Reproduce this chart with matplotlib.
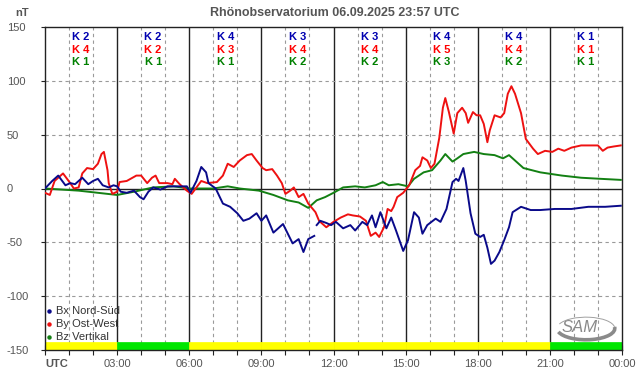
import numpy as np
import matplotlib
matplotlib.use("Agg")
import matplotlib.pyplot as plt
from matplotlib.patches import Arc, Rectangle

plt.rcParams['font.family'] = ['Liberation Sans', 'DejaVu Sans']

title = "Rhönobservatorium 06.09.2025 23:57 UTC"
x_labels = ["UTC", "03:00", "06:00", "09:00", "12:00", "15:00", "18:00", "21:00", "00:00"]
y_ticks = [-150, -100, -50, 0, 50, 100, 150]

# K indices per 3-hour block (Bx, By, Bz)
k_bx = [2, 2, 4, 3, 3, 4, 4, 1]
k_by = [4, 2, 3, 4, 4, 5, 4, 1]
k_bz = [1, 1, 1, 2, 2, 3, 2, 1]

# activity bar per 3-hour block
bar_colors = ["#ffff00", "#00e600", "#ffff00", "#ffff00", "#ffff00", "#ffff00", "#ffff00", "#00e600"]

# Bx Nord-Süd (blue)
bx_t = [0, 0.3, 0.55, 0.85, 1.05, 1.25, 1.55, 1.8, 2.0, 2.2, 2.4, 2.65, 2.85, 3.0, 3.15,
        3.4, 3.7, 3.95, 4.1, 4.3, 4.5, 4.8, 5.1, 5.5, 5.9, 6.05, 6.3, 6.5, 6.7, 6.8, 7.1,
        7.4, 7.7, 8.0, 8.25, 8.5, 8.8, 9.0, 9.2, 9.5, 9.9, 10.3, 10.55, 10.75, 10.95, 11.2,
        11.25, 11.3, 11.45, 11.7, 11.9, 12.1, 12.4, 12.7, 12.9, 13.2, 13.4, 13.6, 13.75,
        13.95, 14.2, 14.4, 14.6, 14.9, 15.1, 15.35, 15.55, 15.7, 15.9, 16.25, 16.45, 16.7,
        16.95, 17.1, 17.2, 17.4, 17.5, 17.7, 17.9, 18.1, 18.25, 18.4, 18.55, 18.7, 18.9,
        19.1, 19.3, 19.45, 19.8, 20.2, 20.6, 21.2, 21.9, 22.6, 23.3, 23.95]
bx_v = [0, 7, 12, 3, 5, 4, 10, 4, 7, 9, 3, 1, 3, 2, -3,
        -4, -2, -8, -10, -3, 1, -1, 2, 2, 2, -4, 7, 20, 15, 5, 0,
        -14, -17, -23, -30, -28, -23, -30, -25, -41, -33, -51, -47, -59, -47, -44,
        np.nan, -34, -30, -32, -34, -31, -37, -34, -39, -31, -34, -25, -36,
        -22, -37, -27, -39, -58, -48, -22, -27, -42, -34, -28, -31, -19,
        6, 9, 7, 19, 7, -23, -42, -45, -43, -55, -70, -67, -59,
        -48, -36, -22, -17, -20, -20, -19, -19, -17, -17, -16]

# By Ost-West (red)
by_t = [0, 0.2, 0.4, 0.75, 1.05, 1.2, 1.4, 1.55, 1.75, 2.0, 2.2, 2.35, 2.45, 2.6, 2.65,
        2.8, 3.0, 3.1, 3.4, 3.8, 4.0, 4.25, 4.45, 4.6, 4.75, 5.1, 5.3, 5.4, 5.6, 5.9,
        6.1, 6.3, 6.5, 6.75, 7.15, 7.4, 7.6, 7.85, 8.1, 8.4, 8.6, 8.8, 9.05, 9.2, 9.45,
        9.65, 9.85, 10.0, 10.2, 10.35, 10.55, 10.75, 10.95, 11.25, 11.4, 11.7, 12.0, 12.3,
        12.6, 12.8, 13.1, 13.35, 13.55, 13.75, 13.9, 14.1, 14.25, 14.4, 14.5, 14.65, 14.9,
        15.15, 15.4, 15.6, 15.7, 15.9, 16.05, 16.2, 16.4, 16.55, 16.65, 16.8, 17.0, 17.15,
        17.35, 17.5, 17.6, 17.8, 17.95, 18.1, 18.25, 18.4, 18.5, 18.7, 18.95, 19.1, 19.25,
        19.4, 19.55, 19.8, 20.0, 20.3, 20.5, 20.8, 21.1, 21.35, 21.6, 21.9, 22.3, 22.7,
        23.0, 23.2, 23.4, 23.65, 23.95]
by_v = [-4, -6, 7, 14, 5, 0, 1, 14, 19, 18, 23, 32, 34, 17, 5,
        -5, -3, 6, 7, 12, 12, 5, 10, 12, 5, 5, 4, 9, 4, -2,
        -5, 1, 7, 5, 6, 12, 23, 20, 26, 31, 32, 26, 19, 17, 18,
        12, 5, -5, -2, 1, -8, -5, -14, -22, -30, -36, -31, -27,
        -24, -25, -26, -30, -44, -41, -45, -36, -19, -21, -17, -8, -4,
        3, 17, 21, 29, 26, 19, 23, 47, 75, 84, 71, 51, 70,
        75, 70, 61, 71, 68, 68, 60, 43, 54, 68, 66, 70, 88,
        95, 88, 70, 46, 37, 32, 35, 34, 37, 35, 38, 40, 40,
        40, 35, 38, 39, 40]

# Bz Vertikal (green)
bz_t = [0, 1.4, 3.0, 3.7, 4.5, 5.35, 6.0, 7.0, 7.6, 8.1, 8.9, 9.5, 10.1, 10.55, 10.95,
        11.3, 11.65, 12.0, 12.4, 12.9, 13.3, 13.75, 14.05, 14.3, 14.7, 15.1, 15.35, 15.75,
        16.1, 16.45, 16.65, 16.95, 17.15, 17.4, 17.85, 18.25, 18.7, 19.05, 19.3, 19.55,
        19.9, 20.6, 21.5, 22.3, 23.1, 23.95]
bz_v = [0, -2, -6, -3, 1, 2, 0, 0, 2, 0, -2, -6, -11, -13, -18,
        -11, -8, -4, 1, 2, 1, 3, 6, 3, 4, 2, 9, 15,
        17, 26, 32, 25, 28, 32, 34, 32, 31, 28, 31, 26,
        19, 15, 12, 10, 9, 8]

fig = plt.figure(figsize=(6.42, 3.76), dpi=100)
ax = fig.add_axes([45 / 642, 26 / 376, 577 / 642, 323 / 376])
ax.set_xlim(0, 24)
ax.set_ylim(-150, 150)
ax.set_autoscale_on(False)

grey = "#555555"
dash_col = "#9a9a9a"

# activity bar
bar_x = [3 * i for i in range(9)]
for i, c in enumerate(bar_colors):
    ax.fill([bar_x[i], bar_x[i + 1], bar_x[i + 1], bar_x[i]], [-150, -150, -143, -143],
            facecolor=c, edgecolor=c, lw=0.5, zorder=2)

# grid
for h in range(1, 24):
    if h % 3 == 0:
        ax.axvline(h, color="#222222", lw=1.0, zorder=1)
    else:
        ax.axvline(h, color=dash_col, lw=0.8, ls=(0, (3, 3)), zorder=1)
for v in [-100, -50, 50, 100]:
    ax.axhline(v, color=dash_col, lw=0.8, ls=(0, (3, 3)), zorder=1)
ax.axhline(0, color="#222222", lw=1.0, zorder=1)

# data
ax.plot(bz_t, bz_v, color="#138013", lw=1.4, zorder=3)
ax.plot(by_t, by_v, color="#ee1111", lw=1.4, zorder=4)
ax.plot(bx_t, bx_v, color="#0a0a8a", lw=1.4, zorder=5)

# K labels
for i in range(8):
    xc = 3 * i + 1.5
    ax.text(xc, 0.970, f"K {k_bx[i]}", transform=ax.get_xaxis_transform(), ha="center", va="center",
            color="#0000b0", fontsize=8, fontweight="bold")
    ax.text(xc, 0.930, f"K {k_by[i]}", transform=ax.get_xaxis_transform(), ha="center", va="center",
            color="#ff0000", fontsize=8, fontweight="bold")
    ax.text(xc, 0.893, f"K {k_bz[i]}", transform=ax.get_xaxis_transform(), ha="center", va="center",
            color="#008000", fontsize=8, fontweight="bold")

# axes styling
for s in ax.spines.values():
    s.set_color("#222222")
    s.set_linewidth(1.0)
ax.set_yticks(y_ticks)
ax.set_yticklabels([str(v) for v in y_ticks])
ax.set_xticks(range(0, 25, 3))
ax.set_xticklabels(x_labels)
ax.set_xticks(range(0, 25), minor=True)
ax.tick_params(axis="y", length=3, width=0.8, color="#222222", labelsize=8, labelcolor=grey, pad=24.5)
for lab in ax.get_yticklabels():
    lab.set_ha("left")
ax.tick_params(axis="x", which="both", direction="inout", length=7, width=0.8, color="#222222",
               labelsize=8, labelcolor=grey, pad=3)
xl = ax.get_xticklabels()
xl[0].set_fontweight("bold")
xl[0].set_ha("left")

fig.text(335 / 642, 1 - 13 / 376, title, ha="center", va="center", fontsize=9, fontweight="bold", color=grey)
fig.text(15 / 642, 1 - 13 / 376, "nT", ha="left", va="center", fontsize=8, fontweight="bold", color=grey)

# legend (positions in axes pixels: axes spans 577 x 323 px)
leg_items = [("Bx Nord-Süd", "#0a0a8a"), ("By Ost-West", "#ee1111"), ("Bz Vertikal", "#138013")]
for i, (lab, c) in enumerate(leg_items):
    ya = (349 - (310 + 13 * i)) / 323
    ax.plot([4 / 577], [ya], marker="o", markersize=2.2, color=c, lw=0,
            transform=ax.transAxes, clip_on=False, zorder=6)
    ax.text(11 / 577, ya, lab, transform=ax.transAxes, ha="left", va="center", fontsize=8,
            color="#333333", zorder=6)

# logo
fig.text(580 / 642, 1 - 328 / 376, "SAM", ha="center", va="center", fontsize=12, style="italic",
         color="#8a8a8a")
ax.add_patch(Arc((22.5, -130), 2.4, 21, theta1=-110, theta2=50, color="#8a8a8a", lw=2.6, zorder=6))
ax.add_patch(Arc((22.5, -130), 2.4, 21, theta1=50, theta2=105, color="#a0a0a0", lw=0.7, zorder=6))

fig.savefig("out.png", dpi=100, facecolor="white")
